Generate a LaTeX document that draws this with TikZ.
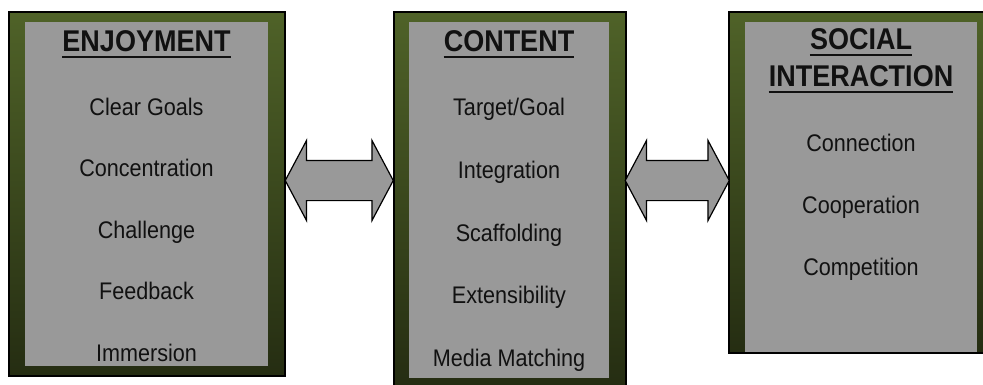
\documentclass[tikz,border=0pt]{standalone}
\usepackage{fontspec}
\setmainfont{Liberation Sans}[FakeStretch=0.9]
\usetikzlibrary{positioning, shapes.arrows, calc}

\definecolor{oliveTop}{RGB}{79,98,40}
\definecolor{oliveBot}{RGB}{37,45,18}
\definecolor{boxGray}{RGB}{153,153,153}
\definecolor{inkText}{RGB}{17,17,17}

\begin{document}
\begin{tikzpicture}[
  x=1pt, y=-1pt,
  node distance=43.5pt,
  outerbox/.style={draw=black, line width=1.5pt, top color=oliveTop, bottom color=oliveBot,
                   inner sep=0pt, anchor=north west},
  innerbox/.style={fill=boxGray, inner sep=0pt, anchor=north west},
  heading/.style={font=\fontsize{30}{32}\selectfont\bfseries, text=inkText,
                  text height=21.5pt, text depth=0pt, inner sep=0pt, anchor=base},
  item/.style={font=\fontsize{24}{26}\selectfont, text=inkText,
               text height=17.5pt, text depth=0pt, inner sep=0pt},
  ul/.style={line width=2.2pt, inkText},
  dblarrow/.style={double arrow, draw=black, line width=1.2pt, fill=boxGray,
                   inner xsep=0pt, inner ysep=19.5pt, double arrow head extend=20pt,
                   double arrow tip angle=124},
]
  \clip (0,0) rectangle (983,384);

  % the three columns
  \node[outerbox, minimum width=276pt, minimum height=364pt] (enj) at (8,11) {};
  \node[innerbox, minimum width=243pt, minimum height=344pt] (enjIn) at (25,22) {};
  \node[outerbox, minimum width=232pt, minimum height=375pt] (con) at (393,11) {};
  \node[innerbox, minimum width=200pt, minimum height=356pt] (conIn) at (409,22) {};
  \node[outerbox, minimum width=265pt, minimum height=341pt] (soc) at (728,11) {};
  \node[innerbox, minimum width=232pt, minimum height=330pt] (socIn) at (745,22) {};

  % enjoyment
  \node[heading] (enjT) at (146.5,51) {ENJOYMENT};
  \draw[ul] ([yshift=-5.5pt]enjT.south west) -- ([yshift=-5.5pt]enjT.south east);
  \node[item, below=46.5pt of enjT] (goals)  {Clear Goals};
  \node[item, below=of goals]       (conc)   {Concentration};
  \node[item, below=of conc]        (chall)  {Challenge};
  \node[item, below=of chall]       (feed)   {Feedback};
  \node[item, below=of feed]        (immer)  {Immersion};

  % content
  \node[heading] (conT) at (509,51) {CONTENT};
  \draw[ul] ([yshift=-5.5pt]conT.south west) -- ([yshift=-5.5pt]conT.south east);
  \node[item, below=46.5pt of conT]  (target) {Target/Goal};
  \node[item, below=45.2pt of target] (integ)  {Integration};
  \node[item, below=44.8pt of integ]  (scaff)  {Scaffolding};
  \node[item, below=44.8pt of scaff]  (extens) {Extensibility};
  \node[item, below=44.8pt of extens] (media)  {Media Matching};

  % social interaction
  \node[heading] (socT) at (861,49.3) {SOCIAL};
  \draw[ul] ([yshift=-5.2pt]socT.south west) -- ([yshift=-5.2pt]socT.south east);
  \node[heading, anchor=north, below=15.2pt of socT] (intT) {INTERACTION};
  \draw[ul] ([yshift=-5.5pt]intT.south west) -- ([yshift=-5.5pt]intT.south east);
  \node[item, below=47.5pt of intT] (connect) {Connection};
  \node[item, below=44pt of connect] (coop)   {Cooperation};
  \node[item, below=44pt of coop]    (compet) {Competition};

  % block arrows between the columns
  \coordinate (arrowline) at (0,180.5);
  \node[dblarrow, minimum height=108pt] (arrL)
    at ($(enj.east |- arrowline)!0.5!(con.west |- arrowline)$) {};
  \node[dblarrow, minimum height=104pt] (arrR)
    at ($(con.east |- arrowline)!0.5!(soc.west |- arrowline)$) {};
\end{tikzpicture}
\end{document}
